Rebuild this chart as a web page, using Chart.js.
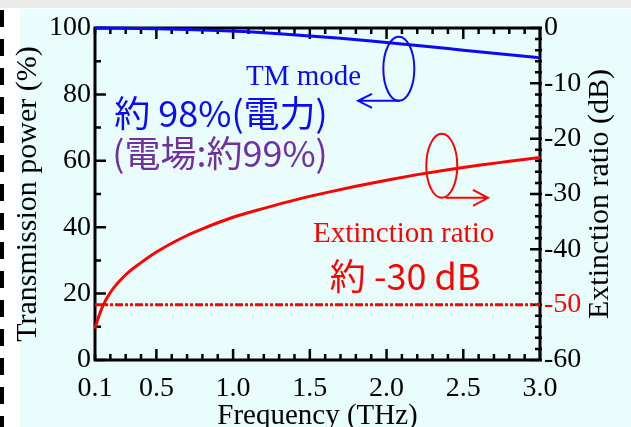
<!DOCTYPE html>
<html>
<head>
<meta charset="utf-8">
<script src="https://cdn.jsdelivr.net/npm/chart.js@4.4.1/dist/chart.umd.min.js"></script>
<style>
html, body { margin: 0; padding: 0; width: 631px; height: 427px; overflow: hidden; background: #fff; }
#topbar { position: absolute; left: 0; top: 0; width: 631px; height: 8px; background: #ebebeb; }
#dashes { position: absolute; left: 0; top: 10px; width: 4px; height: 417px;
  background: repeating-linear-gradient(to bottom, #000 0 17px, transparent 17px 29px); }
#panel { position: absolute; left: 20px; top: 9px; right: 0; bottom: 0; background: #eafdfd; }
#chart { position: absolute; left: 0; top: 0; }
</style>
</head>
<body>
<div id="topbar"></div>
<div id="dashes"></div>
<div id="panel"></div>
<canvas id="chart" width="631" height="427"></canvas>
<script>
// TM mode transmission power (%) vs frequency (THz), left axis
const tmFreq  = [0.1, 0.3, 0.5, 0.7, 0.9, 1.1, 1.3, 1.5, 1.7, 1.9, 2.1, 2.3, 2.5, 2.7, 2.9, 3.0];
const tmPower = [100, 99.95, 99.8, 99.55, 99.25, 98.85, 98.3, 97.6, 96.9, 96.1, 95.2, 94.3, 93.3, 92.4, 91.5, 91.0];

// Extinction ratio (dB) vs frequency (THz), right axis
const erFreq  = [0.1, 0.12, 0.15, 0.2, 0.3, 0.4, 0.5, 0.6, 0.7, 0.8, 0.9, 1.0, 1.2, 1.4, 1.6, 1.8, 2.0, 2.2, 2.4, 2.6, 2.8, 3.0];
const erValue = [-54.3, -52.5, -50.3, -47.8, -44.6, -42.4, -40.5, -38.9, -37.5, -36.3, -35.2, -34.2, -32.6, -31.1, -29.8, -28.6, -27.5, -26.5, -25.6, -24.8, -24.1, -23.4];

// Reference level of the extinction ratio (dB), dash-dot line
const erRefFreq  = [0.1, 3.0];
const erRefValue = [-50, -50];

// Tick labels
const freqLabels  = [0.1, 0.5, 1.0, 1.5, 2.0, 2.5, 3.0];
const powerLabels = [0, 20, 40, 60, 80, 100];
const ratioLabels = [-60, -50, -40, -30, -20, -10, 0];

const BLUE = '#0a0af5';
const RED = '#ff0000';
const PURPLE = '#7030a0';
const SERIF = '"Liberation Serif", "Times New Roman", serif';
const GOTHIC = '"Noto Sans CJK JP", "Noto Sans", sans-serif';

function points(xs, ys) {
    return xs.map((x, i) => ({ x: x, y: ys[i] }));
}

// Frame and inward tick marks on all four sides
const framePlugin = {
    id: 'frame',
    beforeDatasetsDraw(chart) {
        const ctx = chart.ctx;
        const a = chart.chartArea;
        const sx = chart.scales.x, sy = chart.scales.y, sy2 = chart.scales.y2;
        ctx.save();
        ctx.strokeStyle = '#000';
        ctx.lineWidth = 2.5;
        ctx.beginPath();
        // x ticks every 0.1, long at 0.5 steps
        for (let i = 1; i <= 30; i++) {
            const v = i / 10;
            const px = sx.getPixelForValue(v);
            const len = (i % 5 === 0) ? 11 : 6;
            ctx.moveTo(px, a.bottom); ctx.lineTo(px, a.bottom - len);
            ctx.moveTo(px, a.top); ctx.lineTo(px, a.top + len);
        }
        // left ticks every 10 %, long at 20 %
        for (let v = 0; v <= 100; v += 10) {
            const py = sy.getPixelForValue(v);
            const len = (v % 20 === 0) ? 11 : 6;
            ctx.moveTo(a.left, py); ctx.lineTo(a.left + len, py);
        }
        // right ticks every 2 dB, long at 10 dB
        for (let v = -60; v <= 0; v += 2) {
            const py = sy2.getPixelForValue(v);
            const len = (v % 10 === 0) ? 10 : 5;
            ctx.moveTo(a.right + 2, py); ctx.lineTo(a.right - len, py);
        }
        ctx.stroke();
        ctx.lineWidth = 3;
        ctx.strokeRect(a.left, a.top, a.right - a.left, a.bottom - a.top);
        ctx.restore();
    }
};

// Axis titles, ellipses with arrows and the text notes
const notesPlugin = {
    id: 'notes',
    afterDatasetsDraw(chart) {
        const ctx = chart.ctx;
        const a = chart.chartArea;
        const sx = chart.scales.x, sy = chart.scales.y, sy2 = chart.scales.y2;
        ctx.save();

        // axis titles
        ctx.fillStyle = '#000';
        ctx.textAlign = 'center';
        ctx.textBaseline = 'alphabetic';
        ctx.font = '29px ' + SERIF;
        ctx.fillText('Frequency (THz)', (a.left + a.right) / 2, 424);
        ctx.font = '30px ' + SERIF;
        ctx.save();
        ctx.translate(36, (a.top + a.bottom) / 2);
        ctx.rotate(-Math.PI / 2);
        ctx.fillText('Transmission power (%)', 0, 0);
        ctx.restore();
        ctx.save();
        ctx.translate(608, (a.top + a.bottom) / 2);
        ctx.rotate(-Math.PI / 2);
        ctx.fillText('Extinction ratio (dB)', 0, 0);
        ctx.restore();

        // blue ellipse with arrow to the left axis
        ctx.lineWidth = 2;
        ctx.strokeStyle = BLUE;
        let cx = sx.getPixelForValue(2.08), cy = sy.getPixelForValue(87.7);
        ctx.beginPath();
        ctx.ellipse(cx, cy, 15.5, 32, 0, 0, Math.PI * 2);
        ctx.stroke();
        let tip = sx.getPixelForValue(1.814), ay = cy + 32;
        ctx.beginPath();
        ctx.moveTo(cx + 1, ay); ctx.lineTo(tip, ay);
        ctx.moveTo(tip + 14, ay - 7); ctx.lineTo(tip, ay); ctx.lineTo(tip + 14, ay + 7);
        ctx.stroke();

        // red ellipse with arrow to the right axis
        ctx.strokeStyle = RED;
        cx = sx.getPixelForValue(2.36); cy = sy2.getPixelForValue(-24.9);
        ctx.beginPath();
        ctx.ellipse(cx, cy, 15.5, 32, 0, 0, Math.PI * 2);
        ctx.stroke();
        tip = sx.getPixelForValue(2.661); ay = cy + 32;
        ctx.beginPath();
        ctx.moveTo(cx + 4, ay); ctx.lineTo(tip, ay);
        ctx.moveTo(tip - 15, ay - 8); ctx.lineTo(tip, ay); ctx.lineTo(tip - 15, ay + 8);
        ctx.stroke();

        // text notes
        ctx.textAlign = 'center';
        ctx.fillStyle = BLUE;
        ctx.font = '29px ' + SERIF;
        ctx.fillText('TM mode', sx.getPixelForValue(1.459), sy.getPixelForValue(82.8));
        ctx.font = '36px ' + GOTHIC;
        ctx.fillText('約 98%(電力)', sx.getPixelForValue(0.921), sy.getPixelForValue(70.2));
        ctx.fillStyle = PURPLE;
        ctx.fillText('(電場:約99%)', sx.getPixelForValue(0.915), sy.getPixelForValue(58.1));
        ctx.fillStyle = RED;
        ctx.font = '29px ' + SERIF;
        ctx.fillText('Extinction ratio', sx.getPixelForValue(2.111), sy.getPixelForValue(35.5));
        ctx.font = '36px ' + GOTHIC;
        ctx.fillText('約 -30 dB', sx.getPixelForValue(2.121), sy.getPixelForValue(21.1));
        ctx.restore();
    }
};

const tickFont = { family: SERIF, size: 28 };

new Chart(document.getElementById('chart').getContext('2d'), {
    type: 'line',
    data: {
        datasets: [{
            label: 'TM mode',
            data: points(tmFreq, tmPower),
            yAxisID: 'y',
            borderColor: BLUE,
            borderWidth: 3,
            pointRadius: 0,
            cubicInterpolationMode: 'monotone',
            clip: false
        }, {
            label: 'Extinction ratio',
            data: points(erFreq, erValue),
            yAxisID: 'y2',
            borderColor: RED,
            borderWidth: 3,
            pointRadius: 0,
            cubicInterpolationMode: 'monotone',
            clip: false
        }, {
            label: 'Reference',
            data: points(erRefFreq, erRefValue),
            yAxisID: 'y2',
            borderColor: RED,
            borderWidth: 3,
            borderDash: [8, 2, 3, 2, 3, 2],
            pointRadius: 0,
            clip: false
        }]
    },
    options: {
        responsive: false,
        devicePixelRatio: 1,
        animation: false,
        layout: { padding: { top: 28, left: 0, right: 0, bottom: 0 } },
        plugins: { legend: { display: false }, tooltip: { enabled: false } },
        scales: {
            x: {
                type: 'linear',
                position: 'bottom',
                min: 0.1,
                max: 3.0,
                grid: { display: false, drawTicks: false },
                border: { display: false },
                ticks: { font: tickFont, color: '#000', padding: 12, autoSkip: false, maxRotation: 0,
                         callback: v => v.toFixed(1) },
                afterBuildTicks: s => { s.ticks = freqLabels.map(v => ({ value: v })); },
                afterFit: s => { s.height = 67; }
            },
            y: {
                position: 'left',
                min: 0,
                max: 100,
                grid: { display: false, drawTicks: false },
                border: { display: false },
                ticks: { font: tickFont, color: '#000', padding: 4 },
                afterBuildTicks: s => { s.ticks = powerLabels.map(v => ({ value: v })); },
                afterFit: s => { s.width = 95; }
            },
            y2: {
                position: 'right',
                min: -60,
                max: 0,
                grid: { display: false, drawTicks: false },
                border: { display: false },
                ticks: { font: tickFont, padding: 4,
                         color: c => (c.tick && c.tick.value === -50) ? RED : '#000' },
                afterBuildTicks: s => { s.ticks = ratioLabels.map(v => ({ value: v })); },
                afterFit: s => { s.width = 91; }
            }
        }
    },
    plugins: [framePlugin, notesPlugin]
});
</script>
</body>
</html>
